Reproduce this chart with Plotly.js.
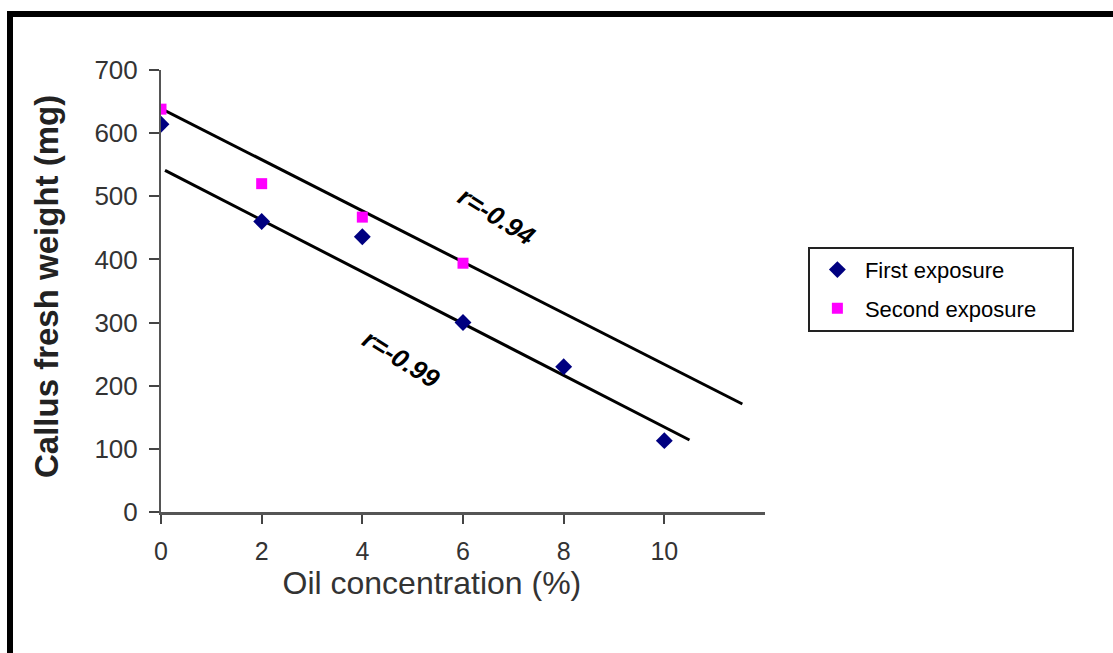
<!DOCTYPE html>
<html>
<head>
<meta charset="utf-8">
<script src="https://cdn.plot.ly/plotly-3.0.1.min.js"></script>
<style>
html,body{margin:0;padding:0;background:#fff;}
#wrap{position:relative;width:1113px;height:653px;}
#chart{width:1113px;height:653px;}
#frame{position:absolute;left:7px;top:11px;right:0;bottom:0;border-top:6px solid #000;border-left:6px solid #000;pointer-events:none;}
</style>
</head>
<body>
<div id="wrap"><div id="chart"></div><div id="frame"></div></div>
<script>
// Data
const concentration = [0, 2, 4, 6, 8, 10];
const firstExposure = [614, 460, 436, 300, 230, 113];
const concentration2 = [0, 2, 4, 6];
const secondExposure = [638, 520, 467, 394];
// Drawn trend lines (endpoints)
const trendSecondX = [0, 11.55];
const trendSecondY = [639, 171];
const trendFirstX = [0.08, 10.5];
const trendFirstY = [541, 114];
const xTicks = [0, 2, 4, 6, 8, 10];
const yTicks = [0, 100, 200, 300, 400, 500, 600, 700];
const seriesNames = ['First exposure', 'Second exposure'];

const sans = '"Liberation Sans", Arial, sans-serif';
const pad = n => '&nbsp;'.repeat(n);

const traces = [
  {x: trendSecondX, y: trendSecondY, mode: 'lines', line: {color: '#000', width: 3}, showlegend: false, hoverinfo: 'skip'},
  {x: trendFirstX, y: trendFirstY, mode: 'lines', line: {color: '#000', width: 3}, showlegend: false, hoverinfo: 'skip'},
  {x: concentration, y: firstExposure, mode: 'markers', name: seriesNames[0], legendgroup: 'a',
   marker: {symbol: 'diamond', color: '#000080', size: 13}},
  {x: concentration2, y: secondExposure, mode: 'markers', name: seriesNames[1] + pad(5), legendgroup: 'b',
   marker: {symbol: 'square', color: '#FF00FF', size: 11}}
];

const layout = {
  width: 1113, height: 653,
  margin: {l: 161, r: 348, t: 70, b: 141, pad: 0},
  paper_bgcolor: '#fff', plot_bgcolor: '#fff',
  showlegend: true,
  legend: {
    x: 1.071, y: 0.6, xanchor: 'left', yanchor: 'top',
    bgcolor: '#fff', bordercolor: '#222', borderwidth: 2,
    font: {family: sans, size: 22, color: '#000'},
    itemwidth: 45, tracegroupgap: 7
  },
  xaxis: {
    range: [0, 12], tickvals: xTicks, ticktext: xTicks.map(String),
    showgrid: false, zeroline: false, showline: true, linecolor: '#555', linewidth: 3,
    ticks: 'outside', ticklen: 9, tickwidth: 2, tickcolor: '#444',
    ticklabelstandoff: 6,
    tickfont: {family: sans, size: 25, color: '#333'},
    title: {text: 'Oil concentration (%)' + pad(7), font: {family: sans, size: 32, color: '#333'}, standoff: 2}
  },
  yaxis: {
    range: [0, 700], tickvals: yTicks, ticktext: yTicks.map(String),
    showgrid: false, zeroline: false, showline: true, linecolor: '#555', linewidth: 2,
    ticks: 'outside', ticklen: 10, tickwidth: 2, tickcolor: '#444',
    ticklabelstandoff: 6,
    tickfont: {family: sans, size: 26, color: '#333'},
    title: {text: pad(1) + 'Callus fresh weight (mg)', font: {family: sans, size: 33, color: '#222', weight: 'bold'}, standoff: 26}
  },
  annotations: [
    {x: 6.66, y: 468, xref: 'x', yref: 'y', text: '<i>r=-0.94</i>', showarrow: false, textangle: 32,
     font: {family: sans, size: 26, color: '#000', weight: 'bold'}},
    {x: 4.78, y: 243, xref: 'x', yref: 'y', text: '<i>r=-0.99</i>', showarrow: false, textangle: 32,
     font: {family: sans, size: 26, color: '#000', weight: 'bold'}}
  ]
};

Plotly.newPlot('chart', traces, layout, {displayModeBar: false, staticPlot: true});
</script>
</body>
</html>
